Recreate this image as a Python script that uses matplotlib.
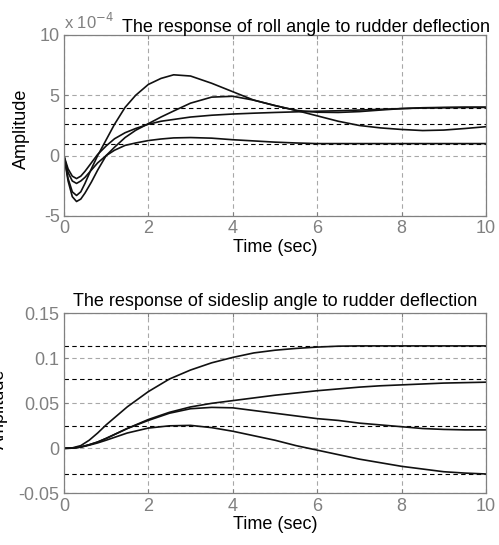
import matplotlib
matplotlib.use('Agg')
import matplotlib.pyplot as plt

plt.rcParams['font.family'] = ['Liberation Sans', 'DejaVu Sans']

# roll angle response (units of 1e-4)
t_roll = [0, 0.1, 0.2, 0.3, 0.4, 0.5, 0.65, 0.8, 1.0, 1.2, 1.45, 1.7, 2.0, 2.3, 2.6,
          3.0, 3.5, 4.0, 4.5, 5.0, 5.5, 6.0, 6.5, 7.0, 7.5, 8.0, 8.5, 9.0, 9.5, 10.0]
roll_a = [0, -1.9, -3.0, -3.3, -3.0, -2.3, -1.1, 0.0, 1.3, 2.6, 4.0, 5.0, 5.9, 6.4, 6.7,
          6.6, 6.0, 5.3, 4.6, 4.15, 3.75, 3.3, 2.85, 2.5, 2.3, 2.17, 2.08, 2.12, 2.25, 2.4]
roll_b = [0, -2.1, -3.4, -3.8, -3.6, -3.1, -2.2, -1.2, 0.0, 0.7, 1.5, 2.1, 2.65, 3.2, 3.7,
          4.35, 4.85, 4.92, 4.6, 4.15, 3.75, 3.6, 3.58, 3.65, 3.78, 3.9, 3.97, 4.0, 4.02, 4.02]
roll_c = [0, -1.1, -1.7, -1.9, -1.7, -1.3, -0.6, 0.1, 0.8, 1.4, 1.9, 2.25, 2.6, 2.85, 3.0,
          3.2, 3.35, 3.45, 3.52, 3.58, 3.63, 3.68, 3.72, 3.78, 3.84, 3.9, 3.95, 3.97, 3.99, 4.0]
roll_d = [0, -1.4, -2.1, -2.3, -2.1, -1.8, -1.2, -0.6, 0.0, 0.45, 0.85, 1.05, 1.25, 1.38, 1.47,
          1.5, 1.45, 1.32, 1.22, 1.12, 1.05, 1.0, 1.0, 1.0, 1.0, 1.0, 1.0, 1.0, 1.0, 1.0]
roll_final = [3.95, 2.6, 0.98]

# sideslip angle response
t_slip = [0, 0.2, 0.4, 0.6, 0.8, 1.0, 1.5, 2.0, 2.5, 3.0, 3.5, 4.0, 4.5, 5.0, 5.5,
          6.0, 6.5, 7.0, 7.5, 8.0, 8.5, 9.0, 9.5, 10.0]
slip_e = [0, 0.0005, 0.003, 0.009, 0.017, 0.026, 0.046, 0.063, 0.077, 0.087, 0.095, 0.101,
          0.106, 0.109, 0.111, 0.1125, 0.1135, 0.1138, 0.1138, 0.1138, 0.1138, 0.1138, 0.1138, 0.1138]
slip_f = [0, 0.0002, 0.0015, 0.004, 0.007, 0.011, 0.022, 0.032, 0.040, 0.046, 0.050, 0.053,
          0.056, 0.059, 0.0615, 0.064, 0.066, 0.068, 0.0695, 0.0705, 0.0715, 0.0725, 0.073, 0.0735]
slip_g = [0, 0.0002, 0.0015, 0.004, 0.007, 0.011, 0.022, 0.031, 0.039, 0.044, 0.0455, 0.045,
          0.042, 0.039, 0.036, 0.033, 0.031, 0.028, 0.026, 0.024, 0.022, 0.021, 0.0205, 0.0205]
slip_h = [0, 0.0002, 0.0013, 0.0035, 0.006, 0.009, 0.017, 0.0225, 0.025, 0.0255, 0.023, 0.019,
          0.014, 0.009, 0.003, -0.002, -0.007, -0.012, -0.016, -0.020, -0.023, -0.026, -0.0275, -0.0285]
slip_final = [0.1138, 0.0768, 0.0243, -0.0285]

xticks = [0, 2, 4, 6, 8, 10]
gray = '#808080'
fs = 13

fig = plt.figure(figsize=(4.99, 5.45), dpi=100)
ax1 = fig.add_axes([0.128, 0.6037, 0.846, 0.3321])
ax2 = fig.add_axes([0.128, 0.0948, 0.846, 0.3303])


def style(ax, yticks, ylabels):
    ax.set_xlim(0, 10)
    ax.set_xticks(xticks)
    ax.set_yticks(yticks)
    ax.set_yticklabels(ylabels)
    for s in ax.spines.values():
        s.set_color(gray)
        s.set_linewidth(0.9)
    ax.tick_params(direction='in', length=3, colors=gray, labelsize=fs, pad=3,
                   top=True, right=True)
    ax.grid(True, color='#a8a8a8', linestyle=(0, (4, 3)), linewidth=0.8)
    ax.set_xlabel('Time (sec)', fontsize=fs, labelpad=1)
    ax.set_ylabel('Amplitude', fontsize=fs)


# top: roll angle
style(ax1, [-5, 0, 5, 10], ['-5', '0', '5', '10'])
ax1.set_ylim(-5, 10)
for y in roll_final:
    ax1.axhline(y, color='black', linestyle=(0, (4, 3)), linewidth=0.8)
for ys in [roll_a, roll_b, roll_c, roll_d]:
    ax1.plot(t_roll, ys, color='#111111', linewidth=1.2)
ax1.yaxis.set_label_coords(-0.08, 0.48)
ax1.text(0.0, 1.015, r'x 10$^{-4}$', transform=ax1.transAxes, color=gray,
         fontsize=12, ha='left', va='bottom')
fig.text(306 / 499, 1 - 27 / 545, 'The response of roll angle to rudder deflection',
         fontsize=fs, ha='center', va='center')

# bottom: sideslip angle
style(ax2, [-0.05, 0, 0.05, 0.1, 0.15], ['-0.05', '0', '0.05', '0.1', '0.15'])
ax2.set_ylim(-0.05, 0.15)
for y in slip_final:
    ax2.axhline(y, color='black', linestyle=(0, (4, 3)), linewidth=0.8)
for ys in [slip_e, slip_f, slip_g, slip_h]:
    ax2.plot(t_slip, ys, color='#111111', linewidth=1.2)
ax2.yaxis.set_label_coords(-0.133, 0.47)
ax2.set_title('The response of sideslip angle to rudder deflection', fontsize=fs, pad=5)

fig.savefig('out.png', dpi=100)
